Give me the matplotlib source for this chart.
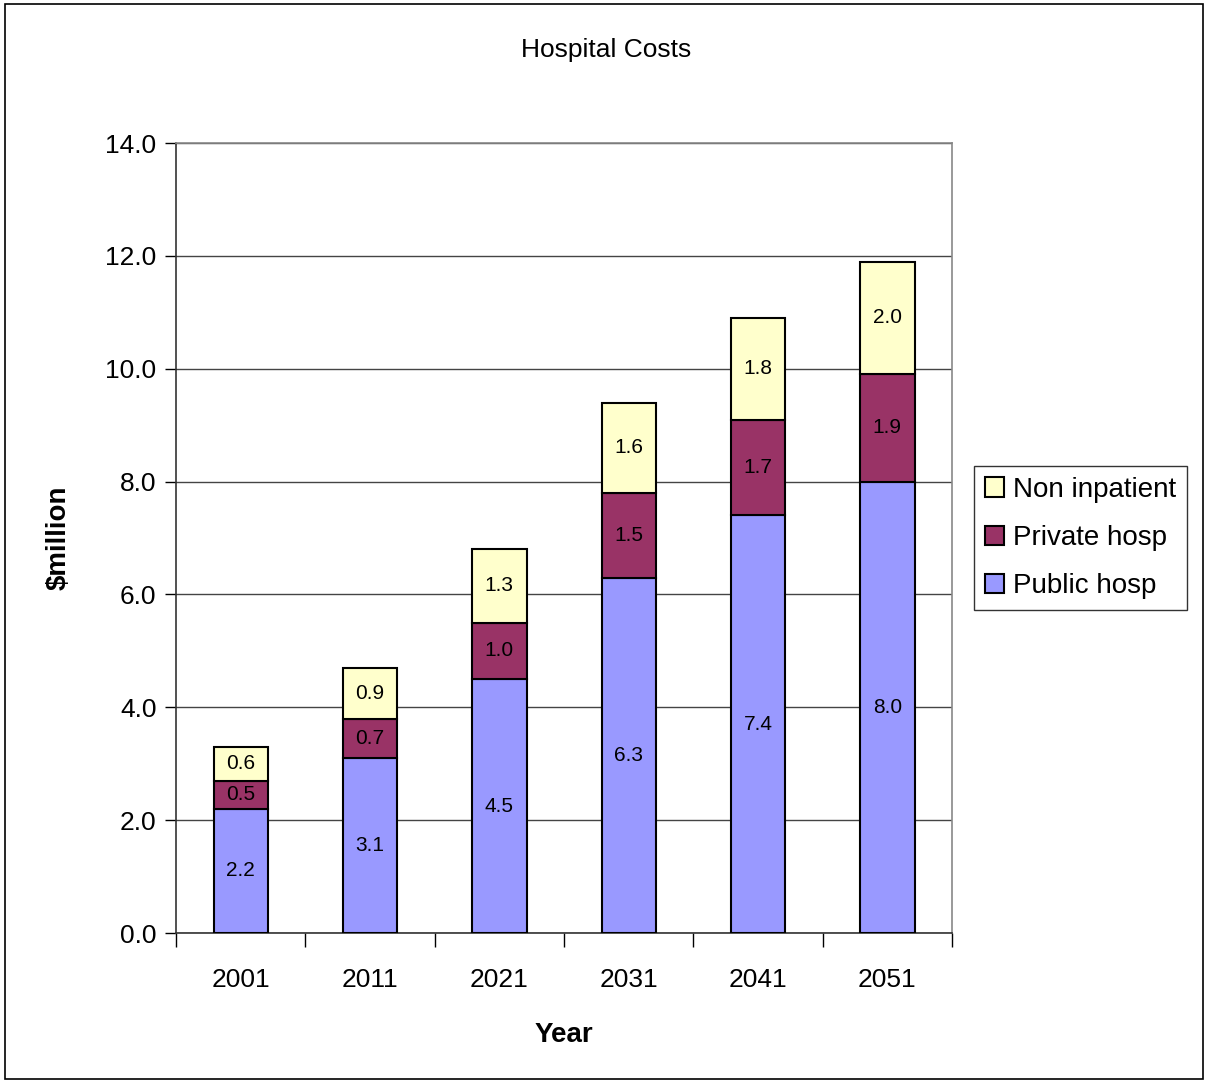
import numpy as np
import matplotlib.pyplot as plt
from matplotlib.patches import Rectangle

plt.rcParams['font.family'] = ['Liberation Sans', 'DejaVu Sans']

years = ['2001', '2011', '2021', '2031', '2041', '2051']
public_hosp = [2.2, 3.1, 4.5, 6.3, 7.4, 8.0]
private_hosp = [0.5, 0.7, 1.0, 1.5, 1.7, 1.9]
non_inpatient = [0.6, 0.9, 1.3, 1.6, 1.8, 2.0]

series = [
    ('Public hosp', public_hosp, '#9999FF'),
    ('Private hosp', private_hosp, '#993366'),
    ('Non inpatient', non_inpatient, '#FFFFCC'),
]

fig = plt.figure(figsize=(12.08, 10.82), dpi=100)
fig.patches.append(Rectangle((0.004, 0.003), 0.992, 0.993, transform=fig.transFigure,
                             fill=False, edgecolor='black', linewidth=1.2))
ax = fig.add_axes([0.1457, 0.1377, 0.6424, 0.7301])

x = np.arange(len(years))
bottom = np.zeros(len(years))
handles = {}
for name, vals, color in series:
    bars = ax.bar(x, vals, 0.42, bottom=bottom, color=color, edgecolor='black',
                  linewidth=1.5, zorder=3, label=name)
    handles[name] = bars
    for xi, b, v in zip(x, bottom, vals):
        ax.text(xi, b + v / 2, f'{v:.1f}', ha='center', va='center', fontsize=15, zorder=4)
    bottom = bottom + np.array(vals)

ax.set_xlim(-0.5, len(years) - 0.5)
ax.set_ylim(0, 14)
ax.set_yticks(np.arange(0, 14.1, 2))
ax.set_yticklabels([f'{v:.1f}' for v in np.arange(0, 14.1, 2)], fontsize=19)
ax.yaxis.grid(True, color='#444444', linewidth=1.0, zorder=0)

# category labels centred, ticks on the category boundaries
ax.set_xticks(x)
ax.set_xticklabels(years, fontsize=19)
ax.tick_params(axis='x', length=0, pad=25)
ax.set_xticks(np.arange(-0.5, len(years)), minor=True)
ax.tick_params(axis='x', which='minor', length=10, width=1, direction='out')
ax.tick_params(axis='y', length=8, width=1, direction='out', pad=6)

for side in ['top', 'right']:
    ax.spines[side].set_color('#888888')
    ax.spines[side].set_linewidth(1.2)
for side in ['left', 'bottom']:
    ax.spines[side].set_color('#333333')
    ax.spines[side].set_linewidth(1.2)

ax.set_xlabel('Year', fontsize=20, fontweight='bold', labelpad=22)
ax.set_ylabel('$million', fontsize=20, fontweight='bold', labelpad=24)
fig.text(0.502, 0.954, 'Hospital Costs', ha='center', va='center', fontsize=19)

order = ['Non inpatient', 'Private hosp', 'Public hosp']
leg = fig.legend([handles[n] for n in order], order, loc='center left',
                 bbox_to_anchor=(0.806, 0.5028), borderaxespad=0, fontsize=20,
                 frameon=True, fancybox=False, edgecolor='black',
                 handlelength=0.7, handleheight=0.7, handletextpad=0.3,
                 labelspacing=0.8, borderpad=0.4)
leg.get_frame().set_linewidth(1.0)

fig.savefig('out.png', dpi=100)
